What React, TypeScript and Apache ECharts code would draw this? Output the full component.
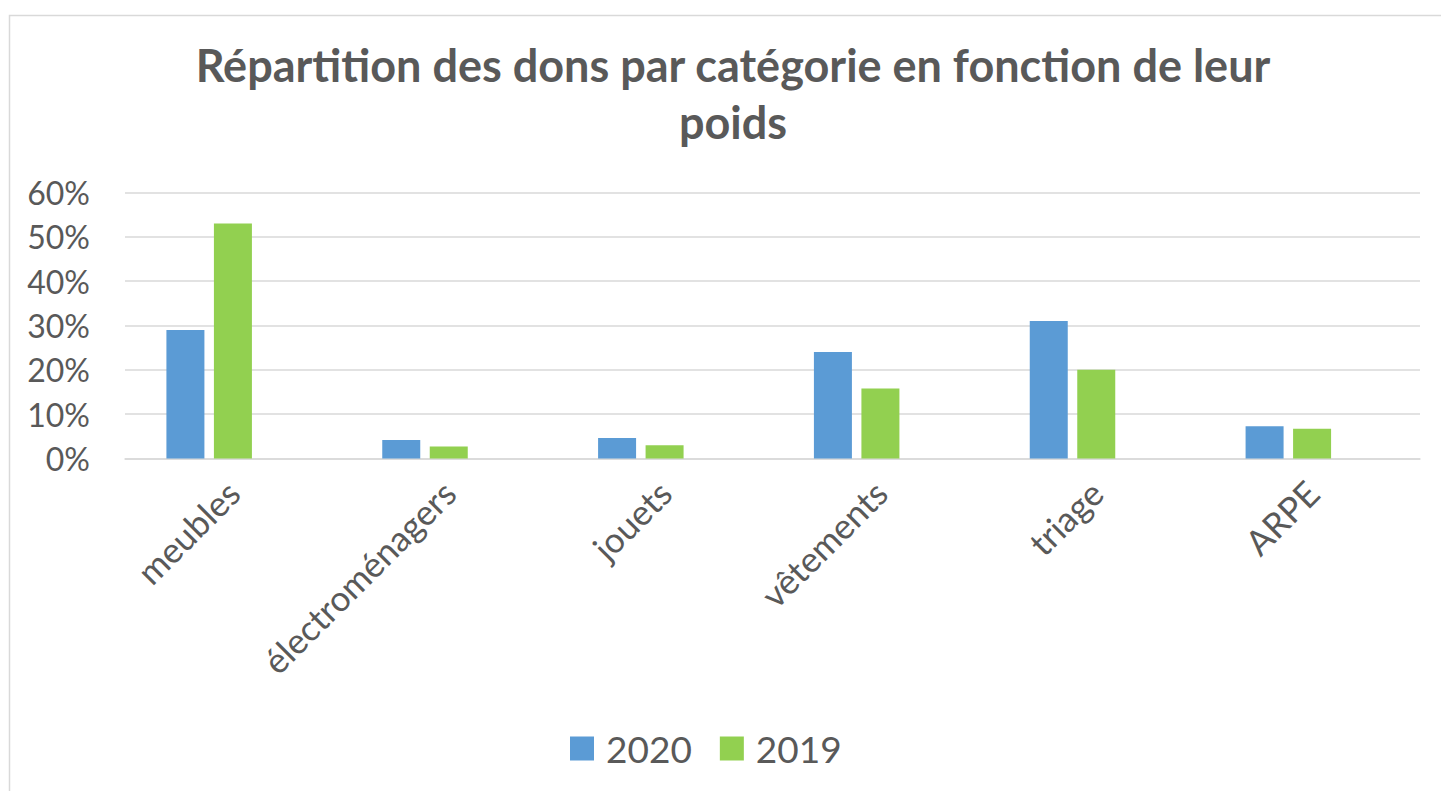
import React, { useEffect, useRef } from "react";
import * as echarts from "echarts";

const categories = ["meubles", "électroménagers", "jouets", "vêtements", "triage", "ARPE"];
const values2020 = [29, 4.2, 4.6, 24, 31, 7.3];
const values2019 = [53, 2.7, 3.0, 15.8, 20, 6.7];
// Empty third slot of the original Excel chart (keeps the bar pairs offset to the left)
const emptySlot = ["-", "-", "-", "-", "-", "-"];
const yTicks = [0, 10, 20, 30, 40, 50, 60];

const TEXT = "#595959";
const FONT = "Lato, 'Open Sans', sans-serif";

export default function App() {
  const ref = useRef<HTMLDivElement>(null);
  useEffect(() => {
    if (!ref.current) return;
    const chart = echarts.init(ref.current, null, { renderer: "svg" });
    chart.setOption({
      animation: false,
      backgroundColor: "#ffffff",
      textStyle: { fontFamily: FONT, color: TEXT },
      graphic: [
        {
          type: "rect",
          shape: { x: 9.5, y: 15.5, width: 1500, height: 900 },
          style: { fill: "none", stroke: "#d9d9d9", lineWidth: 1.5 },
          silent: true,
          z: -1,
        },
      ],
      title: {
        text: "Répartition des dons par catégorie en fonction de leur\npoids",
        left: 728,
        textAlign: "center",
        top: 31,
        textStyle: {
          fontFamily: FONT,
          fontWeight: "bold",
          fontSize: 45,
          lineHeight: 57,
          color: TEXT,
        },
      },
      legend: {
        data: ["2020", "2019"],
        left: 565,
        top: 725,
        itemWidth: 24,
        itemHeight: 24,
        itemGap: 28,
        icon: "rect",
        textStyle: {
          fontFamily: FONT,
          fontSize: 37,
          color: TEXT,
          padding: [0, 0, 0, 7],
        },
      },
      grid: { left: 125, right: 21, top: 192.5, bottom: 332.5, containLabel: false },
      xAxis: {
        type: "category",
        data: categories,
        axisLine: { show: true, lineStyle: { color: "#d9d9d9", width: 1.5 } },
        axisTick: { show: false },
        axisLabel: {
          rotate: 45,
          interval: 0,
          margin: 28,
          fontFamily: FONT,
          fontSize: 35,
          color: TEXT,
        },
      },
      yAxis: {
        type: "value",
        min: yTicks[0],
        max: yTicks[yTicks.length - 1],
        interval: 10,
        axisLine: { show: false },
        axisTick: { show: false },
        splitLine: { lineStyle: { color: "#d9d9d9", width: 1.5 } },
        axisLabel: {
          formatter: (v: number) => `${v}%`,
          margin: 35,
          fontFamily: FONT,
          fontSize: 32,
          color: TEXT,
        },
      },
      series: [
        {
          name: "2020",
          type: "bar",
          data: values2020,
          barWidth: 38,
          barGap: "25%",
          itemStyle: { color: "#5b9bd5" },
        },
        {
          name: "2019",
          type: "bar",
          data: values2019,
          barWidth: 38,
          barGap: "25%",
          itemStyle: { color: "#92d050" },
        },
        {
          name: "",
          type: "bar",
          data: emptySlot,
          barWidth: 38,
          barGap: "25%",
          itemStyle: { color: "transparent" },
        },
      ],
    });
    return () => chart.dispose();
  }, []);
  return (
    <div
      ref={ref}
      style={{ position: "fixed", left: 0, top: 0, width: 1441, height: 791 }}
    />
  );
}
